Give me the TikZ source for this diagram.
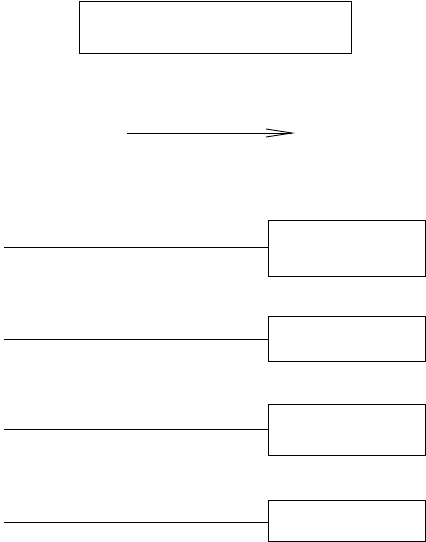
\documentclass[tikz,border=0pt]{standalone}
\usetikzlibrary{arrows.meta}
\begin{document}
\begin{tikzpicture}[x=1pt,y=-1pt,
  boxn/.style={draw,line width=0.9pt,inner sep=0pt,outer sep=0pt},
  wire/.style={line width=0.9pt}]
\useasboundingbox (0,0) rectangle (426,542);
\node[boxn,minimum width=272pt,minimum height=52pt] (top) at (215,27) {};
\coordinate (as) at (127,133);
\coordinate (ae) at (295,133);
\draw[wire,-{Straight Barb[length=26pt,width=8pt]}] (as) -- (ae);
\node[boxn,minimum width=157pt,minimum height=56pt] (b1) at (346.5,248) {};
\node[boxn,minimum width=157pt,minimum height=45pt] (b2) at (346.5,338.5) {};
\node[boxn,minimum width=157pt,minimum height=51pt] (b3) at (346.5,429.5) {};
\node[boxn,minimum width=157pt,minimum height=41pt] (b4) at (346.5,520.5) {};
\coordinate (l1) at (4,247);
\coordinate (l2) at (4,339);
\coordinate (l3) at (4,429);
\coordinate (l4) at (4,522);
\draw[wire] (l1) -- (l1 -| b1.west);
\draw[wire] (l2) -- (l2 -| b2.west);
\draw[wire] (l3) -- (l3 -| b3.west);
\draw[wire] (l4) -- (l4 -| b4.west);
\end{tikzpicture}
\end{document}
